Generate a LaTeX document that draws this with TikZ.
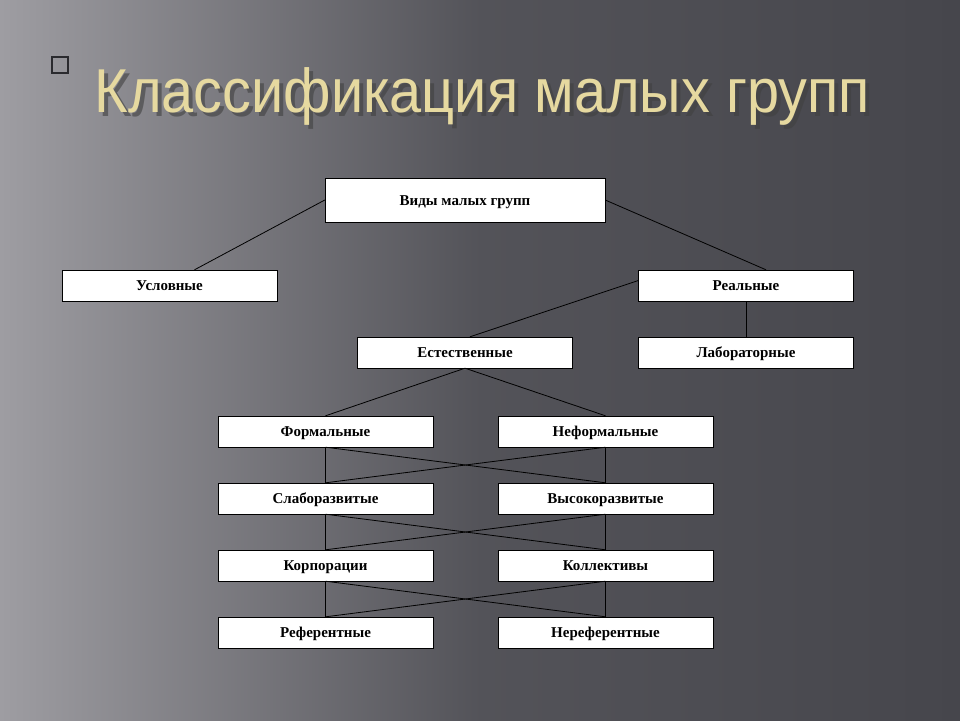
\documentclass[tikz,border=0pt]{standalone}
\usepackage{fontspec}
\setmainfont{Liberation Serif}
\newfontfamily\titlefont{Liberation Sans}
\usetikzlibrary{positioning}
\definecolor{slatedark}{HTML}{46464C}
\definecolor{slatelight}{HTML}{9E9DA2}
\definecolor{titlegold}{HTML}{E6D9A0}
\tikzset{
  kind/.style={draw=black, fill=white, minimum width=215pt, minimum height=31pt,
    inner sep=0pt, text height=10pt, text depth=0pt, font=\fontsize{15}{17}\selectfont\bfseries},
  link/.style={draw=black, line width=0.8pt}
}
\begin{document}
\begin{tikzpicture}[x=1pt, y=-1pt]
  % background
  \shade[left color=slatelight, right color=slatedark, middle color=slatedark!85!slatelight] (0,0) rectangle (960,720);
  \useasboundingbox (0,0) rectangle (960,720);
  \draw[slatedark!60!black, line width=1.2pt] (52,57) rectangle (68,73);

  % title
  \node[font=\titlefont\fontsize{62}{70}\selectfont, text=black!75, opacity=0.6, xscale=0.93] at (486,100) {Классификация малых групп};
  \node[font=\titlefont\fontsize{62}{70}\selectfont, text=titlegold, xscale=0.93] (title) at (482,96) {Классификация малых групп};

  % boxes
  \node[kind, minimum width=280pt, minimum height=44pt] (types) at (465,200) {Виды малых групп};
  \node[kind] (cond) at (169.5,285.5) {Условные};
  \node[kind] (real) at (746,285.5) {Реальные};
  \node[kind] (nat) at (465,352.5) {Естественные};
  \node[kind] (lab) at (746,352.5) {Лабораторные};
  \node[kind] (form) at (325.5,431.5) {Формальные};
  \node[kind] (inform) at (605.5,431.5) {Неформальные};
  \node[kind] (weak) at (325.5,498.5) {Слаборазвитые};
  \node[kind] (high) at (605.5,498.5) {Высокоразвитые};
  \node[kind] (corp) at (325.5,565.5) {Корпорации};
  \node[kind] (coll) at (605.5,565.5) {Коллективы};
  \node[kind] (ref) at (325.5,632.5) {Референтные};
  \node[kind] (nonref) at (605.5,632.5) {Нереферентные};

  % connectors
  \draw[link] (types.west) -- ([xshift=25pt]cond.north);
  \draw[link] (types.east) -- ([xshift=20pt]real.north);
  \draw[link] ([yshift=5pt]real.west) -- ([xshift=5pt]nat.north);
  \draw[link] (real.south) -- (lab.north);
  \draw[link] (nat.south) -- (form.north);
  \draw[link] (nat.south) -- (inform.north);
  \foreach \a/\b/\c/\d in {form/inform/weak/high, weak/high/corp/coll, corp/coll/ref/nonref} {
    \draw[link] (\a.south) -- (\c.north);
    \draw[link] (\b.south) -- (\d.north);
    \draw[link] (\a.south) -- (\d.north);
    \draw[link] (\b.south) -- (\c.north);
  }
\end{tikzpicture}
\end{document}
